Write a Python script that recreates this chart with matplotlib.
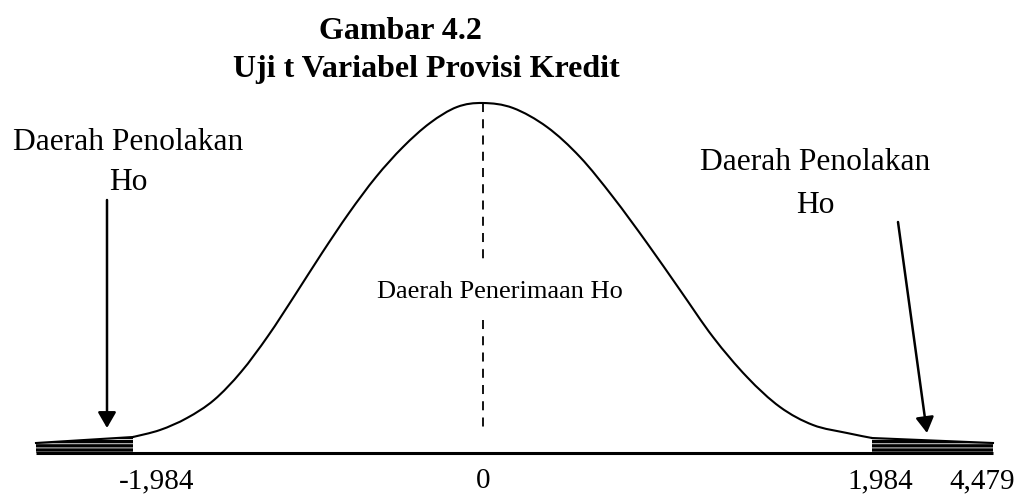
import numpy as np
import matplotlib.pyplot as plt
from matplotlib.path import Path
from matplotlib.patches import PathPatch

# Curve outline (pixel positions, y grows downward)
curve_x = [133, 160, 187, 214, 241, 268, 295, 322, 349, 376, 403, 430, 457, 483,
           513, 547, 580, 613, 647, 680, 713, 747, 780, 813, 847, 872]
curve_y = [437, 430, 418, 400, 372, 336, 295, 253, 213, 177, 147, 123, 107, 103,
           108, 127, 157, 197, 243, 290, 337, 377, 407, 425, 433, 438]

# Rejection tails (hatched)
left_tail_x = [36, 133]
left_tail_top = [443, 437]
right_tail_x = [872, 993]
right_tail_top = [438, 443]
baseline_y = 453

tick_labels = ['-1,984', '0', '1,984', '4,479']
tick_x = [157, 483, 880, 982]

title_lines = ['Gambar 4.2', 'Uji t Variabel Provisi Kredit']

FONT = 'Liberation Serif'


def smooth_path(xs, ys):
    # Catmull-Rom through the read points, drawn as cubic Bezier segments
    pts = np.column_stack([xs, ys]).astype(float)
    ext = np.vstack([pts[0], pts, pts[-1]])
    verts = [pts[0]]
    codes = [Path.MOVETO]
    for i in range(1, len(ext) - 2):
        p0, p1, p2, p3 = ext[i - 1], ext[i], ext[i + 1], ext[i + 2]
        verts += [p1 + (p2 - p0) / 6, p2 - (p3 - p1) / 6, p2]
        codes += [Path.CURVE4] * 3
    return Path(verts, codes)


plt.rcParams['hatch.linewidth'] = 0.6

fig = plt.figure(figsize=(10.19, 4.95), dpi=100)
ax = fig.add_axes([0, 0, 1, 1])
ax.set_xlim(0, 1019)
ax.set_ylim(495, 0)
ax.axis('off')

# bell curve
ax.add_patch(PathPatch(smooth_path(curve_x, curve_y), fill=False,
                       edgecolor='black', lw=1.5))

# hatched tails: dark fill with thin light streaks
for tx, ty in [(left_tail_x, left_tail_top), (right_tail_x, right_tail_top)]:
    ax.fill_between(tx, ty, baseline_y, facecolor='black', edgecolor='white',
                    hatch='----', lw=0)
    ax.plot(tx, ty, color='black', lw=1.5)

# baseline
ax.plot([left_tail_x[0], right_tail_x[-1]], [baseline_y, baseline_y],
        color='black', lw=2.2, solid_capstyle='butt')

# centre dashed line, broken around the label
ax.plot([483, 483], [103, 262], color='black', lw=1.3, ls=(0, (5, 4)))
ax.plot([483, 483], [320, 432], color='black', lw=1.3, ls=(0, (5, 4)))
ax.text(500, 298, 'Daerah Penerimaan Ho', fontsize=19, family=FONT,
        ha='center', va='baseline')

# titles
ax.text(400, 39, title_lines[0], fontsize=23, family=FONT, weight='bold',
        ha='center', va='baseline')
ax.text(426, 77, title_lines[1], fontsize=23, family=FONT, weight='bold',
        ha='center', va='baseline')

# rejection labels
ax.text(13, 150, 'Daerah Penolakan', fontsize=22.7, family=FONT,
        ha='left', va='baseline')
ax.text(128, 190, 'Ho', fontsize=22.7, family=FONT, ha='center', va='baseline')
ax.text(815, 170, 'Daerah Penolakan', fontsize=22.7, family=FONT,
        ha='center', va='baseline')
ax.text(815, 213, 'Ho', fontsize=22.7, family=FONT, ha='center', va='baseline')

# arrows
arrow = dict(arrowstyle='-|>,head_length=0.95,head_width=0.55', lw=1.8,
             color='black', shrinkA=0, shrinkB=0)
ax.annotate('', xy=(107, 428), xytext=(107, 200), arrowprops=arrow)
ax.annotate('', xy=(927, 433), xytext=(898, 222), arrowprops=arrow)

# tick labels
for x, lab in zip(tick_x, tick_labels):
    ax.text(x, 488, lab, fontsize=21, family=FONT, ha='center', va='baseline')

plt.savefig('out.png', dpi=100, facecolor='white')
